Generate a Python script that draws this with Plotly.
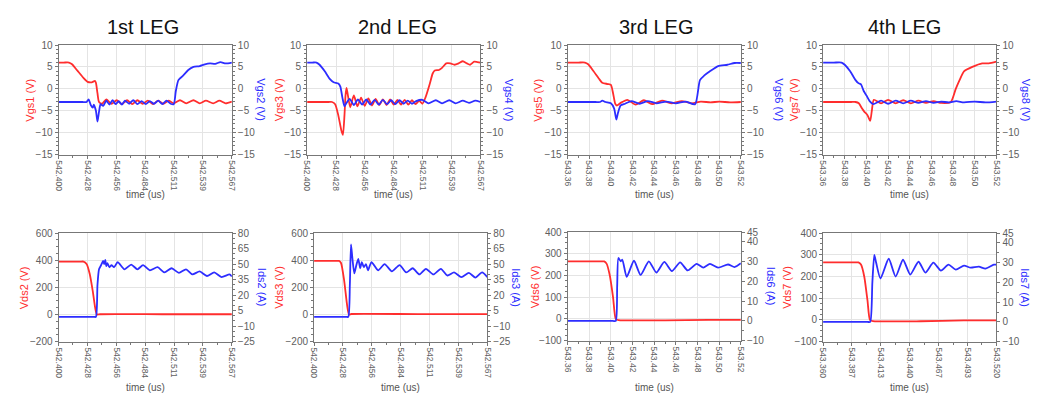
import numpy as np
import plotly.graph_objects as go

# page is 1041x401; the html body adds an 8px margin, so the figure is drawn 8px smaller
# and all target pixel positions are shifted by that margin.
PAGE_W, PAGE_H = 1041, 401
OFF = 8
W, H = PAGE_W - OFF, PAGE_H - OFF

# ---------------- data (time in us) ----------------
titles = ["1st LEG", "2nd LEG", "3rd LEG", "4th LEG"]

# x tick labels
xt_a = ["542.400", "542.428", "542.456", "542.484", "542.511", "542.539", "542.567"]
xt_b = ["543.36", "543.38", "543.40", "543.42", "543.44", "543.46", "543.48", "543.50", "543.52"]
xt_c = ["543.360", "543.387", "543.413", "543.440", "543.467", "543.493", "543.520"]

# Panel 1 top
t_vgs1 = [542.400, 542.405, 542.410, 542.413, 542.418, 542.424, 542.428, 542.432, 542.435, 542.436, 542.4375,
          542.439, 542.442, 542.446, 542.451, 542.456, 542.461, 542.466, 542.471, 542.476, 542.481, 542.486,
          542.491, 542.496, 542.501, 542.506, 542.511, 542.517, 542.523, 542.530, 542.536, 542.542, 542.549,
          542.555, 542.561, 542.567]
vgs1 = [6.0, 6.0, 6.0, 5.6, 4.2, 2.5, 1.6, 1.5, 1.8, 1.4, -1.0, -3.0, -3.4, -2.4, -3.4, -2.6, -3.5, -2.6, -3.5,
        -2.6, -3.4, -2.7, -3.5, -2.7, -3.4, -2.7, -3.3, -2.6, -3.3, -2.6, -3.3, -2.7, -3.3, -2.7, -3.3, -2.9]
t_vgs2 = [542.400, 542.415, 542.423, 542.427, 542.429, 542.431, 542.433, 542.434, 542.436, 542.4375, 542.439,
          542.4405, 542.443, 542.446, 542.449, 542.452, 542.455, 542.458, 542.461, 542.464, 542.468, 542.472,
          542.476, 542.480, 542.484, 542.488, 542.492, 542.496, 542.500, 542.504, 542.508, 542.511, 542.513,
          542.5155, 542.520, 542.525, 542.530, 542.536, 542.541, 542.546, 542.551, 542.556, 542.561, 542.567]
vgs2 = [-3.0, -3.0, -3.0, -3.0, -2.4, -3.7, -4.3, -3.6, -5.0, -7.5, -5.2, -3.5, -3.9, -2.7, -3.6, -2.6, -3.5,
        -2.8, -3.6, -2.7, -3.4, -2.6, -3.5, -2.8, -3.5, -2.8, -3.4, -2.7, -3.5, -2.7, -3.4, -3.5, -0.5, 2.0, 3.0,
        4.3, 5.0, 5.2, 5.6, 5.8, 5.7, 6.1, 5.8, 6.0]

# Panel 1 bottom
t_vds2 = [542.400, 542.415, 542.421, 542.424, 542.427, 542.430, 542.433, 542.4355, 542.437, 542.440, 542.500,
          542.567]
vds2 = [390, 390, 390, 390, 372, 300, 170, 40, 0, 2, 2, 2]
t_ids2 = [542.400, 542.420, 542.430, 542.434, 542.436, 542.4375, 542.439, 542.441, 542.443, 542.444, 542.445,
          542.446, 542.447, 542.449, 542.451, 542.4535, 542.457, 542.4635, 542.470, 542.476, 542.4814, 542.488,
          542.4954, 542.502, 542.509, 542.516, 542.5228, 542.529, 542.536, 542.543, 542.550, 542.557, 542.5648,
          542.567]
ids2 = [-1, -1, -1, -1, -1, 30, 45, 49, 53, 50, 54, 48, 51, 47, 49, 47, 52, 45, 49.5, 45, 49, 44, 47, 42, 46,
        41.5, 45, 40, 43, 38.5, 42, 37.5, 40, 38]

# Panel 2 top
t_vgs3 = [542.400, 542.415, 542.421, 542.424, 542.427, 542.430, 542.433, 542.4345, 542.436, 542.437, 542.438,
          542.4415, 542.445, 542.4485, 542.452, 542.4555, 542.459, 542.4625, 542.466, 542.4695, 542.473, 542.4765,
          542.480, 542.4835, 542.487, 542.4905, 542.494, 542.4975, 542.501, 542.5045, 542.508, 542.511, 542.514,
          542.518, 542.521, 542.523, 542.527, 542.530, 542.534, 542.538, 542.542, 542.546, 542.550, 542.554,
          542.557, 542.561, 542.564, 542.567]
vgs3 = [-3.0, -3.0, -3.0, -3.0, -3.5, -6.0, -9.5, -10.5, -6.0, -1.5, 0.2, -4.2, -1.5, -4.0, -2.0, -3.9, -2.2,
        -3.8, -2.3, -3.7, -2.4, -3.7, -2.4, -3.6, -2.5, -3.6, -2.5, -3.6, -2.6, -3.5, -2.7, -3.4, -2.0, 1.0, 3.5,
        4.2, 4.3, 4.8, 5.8, 5.8, 5.5, 5.8, 6.3, 5.8, 5.5, 6.2, 6.1, 6.0]
t_vgs4 = [542.400, 542.405, 542.409, 542.412, 542.417, 542.422, 542.4255, 542.430, 542.432, 542.434, 542.436,
          542.438, 542.441, 542.445, 542.449, 542.453, 542.457, 542.461, 542.465, 542.469, 542.473, 542.477,
          542.481, 542.485, 542.489, 542.493, 542.497, 542.501, 542.505, 542.511, 542.517, 542.524, 542.530,
          542.537, 542.543, 542.550, 542.556, 542.562, 542.567]
vgs4 = [6.0, 6.0, 6.0, 5.5, 4.0, 2.2, 1.5, 1.2, 0.5, -2.0, -4.0, -3.2, -2.3, -3.7, -2.4, -3.6, -2.4, -3.6, -2.5,
        -3.6, -2.5, -3.5, -2.6, -3.5, -2.6, -3.4, -2.7, -3.4, -2.8, -2.5, -3.3, -2.6, -3.3, -2.6, -3.3, -2.7,
        -3.2, -2.7, -3.0]

# Panel 2 bottom
t_vds3 = [542.400, 542.415, 542.421, 542.424, 542.426, 542.429, 542.432, 542.4337, 542.436, 542.500, 542.567]
vds3 = [395, 395, 395, 395, 380, 250, 60, 0, 4, 3, 3]
t_ids3 = [542.400, 542.420, 542.428, 542.431, 542.433, 542.4345, 542.4356, 542.437, 542.4388, 542.4405,
          542.4426, 542.4445, 542.446, 542.448, 542.450, 542.452, 542.4553, 542.4617, 542.468, 542.475, 542.4824,
          542.4888, 542.4951, 542.5015, 542.5078, 542.515, 542.5222, 542.5285, 542.5349, 542.542, 542.5492,
          542.5555, 542.5619, 542.567]
ids3 = [-1, -1, -1, -1, -1, 30, 69, 55, 41, 48, 55, 46, 52, 47, 50, 44, 52, 44, 50, 43, 49, 42, 46, 40, 45.5,
        40, 45.5, 39, 42, 37.5, 41.5, 37, 42, 37.5]

# Panel 3 top
t_vgs5 = [543.360, 543.370, 543.376, 543.379, 543.384, 543.389, 543.392, 543.397, 543.400, 543.402, 543.404,
          543.4055, 543.409, 543.4152, 543.4228, 543.4304, 543.438, 543.4472, 543.4563, 543.4654, 543.4746,
          543.483, 543.492, 543.500, 543.510, 543.520]
vgs5 = [6.0, 6.0, 6.0, 5.6, 4.0, 2.3, 1.4, 1.1, 0.9, -1.0, -3.4, -3.8, -3.2, -2.5, -3.6, -2.6, -3.5, -2.7, -3.3,
        -2.8, -3.3, -2.9, -3.1, -2.9, -3.1, -3.0]
t_vgs6 = [543.360, 543.378, 543.386, 543.390, 543.392, 543.395, 543.400, 543.403, 543.405, 543.4065, 543.409,
          543.413, 543.419, 543.4265, 543.434, 543.442, 543.451, 543.460, 543.469, 543.4777, 543.4822, 543.486,
          543.4914, 543.499, 543.5075, 543.5142, 543.520]
vgs6 = [-3.0, -3.0, -3.0, -3.0, -2.7, -3.0, -3.3, -4.5, -7.0, -5.5, -3.8, -3.4, -2.8, -3.4, -2.8, -3.3, -2.9,
        -3.3, -2.9, -3.5, 2.0, 3.0, 4.0, 5.2, 5.5, 5.9, 5.9]

# Panel 3 bottom
t_vds6 = [543.360, 543.382, 543.390, 543.3938, 543.396, 543.399, 543.402, 543.4045, 543.407, 543.450, 543.490,
          543.520]
vds6 = [265, 265, 265, 265, 255, 200, 100, 0, -5, -6, -4, -4]
t_ids6 = [543.360, 543.390, 543.399, 543.402, 543.4045, 543.4058, 543.4069, 543.4091, 543.4106, 543.4146,
          543.4213, 543.4274, 543.435, 543.442, 543.4493, 543.4563, 543.4639, 543.4709, 543.4791, 543.4853,
          543.4914, 543.499, 543.5081, 543.5142, 543.520]
ids6 = [0, 0, 0, 0, 0, 18, 31.9, 30.2, 31, 22.3, 30.5, 23.3, 30.2, 24.5, 29.9, 25.3, 29.7, 25.6, 28.9, 27,
        28.9, 27, 28.6, 27.3, 29.2]

# Panel 4 top
t_vgs7 = [543.360, 543.378, 543.386, 543.390, 543.393, 543.396, 543.398, 543.401, 543.4035, 543.405, 543.4069,
          543.4135, 543.420, 543.427, 543.434, 543.441, 543.448, 543.455, 543.462, 543.469, 543.4779, 543.4825,
          543.486, 543.4901, 543.4978, 543.5069, 543.513, 543.520]
vgs7 = [-3.0, -3.0, -3.0, -3.0, -3.3, -4.5, -5.2, -6.0, -7.3, -5.0, -2.5, -3.3, -2.5, -3.3, -2.6, -3.3, -2.7,
        -3.2, -2.8, -3.2, -3.0, 0.0, 2.0, 4.0, 5.0, 5.8, 5.8, 6.2]
t_vgs8 = [543.360, 543.370, 543.377, 543.380, 543.385, 543.390, 543.3926, 543.395, 543.3975, 543.400, 543.403,
          543.4063, 543.4135, 543.420, 543.427, 543.434, 543.441, 543.448, 543.455, 543.462, 543.469, 543.476,
          543.483, 543.490, 543.500, 543.510, 543.520]
vgs8 = [6.0, 6.0, 6.0, 5.5, 4.0, 2.0, 1.3, 1.0, -0.5, -1.5, -2.8, -3.5, -2.7, -3.4, -2.7, -3.3, -2.7, -3.2,
        -2.8, -3.2, -2.9, -3.1, -2.8, -3.1, -2.9, -3.1, -2.9]

# Panel 4 bottom
t_vds7 = [543.360, 543.380, 543.388, 543.3926, 543.395, 543.398, 543.401, 543.4033, 543.406, 543.450, 543.490,
          543.520]
vds7 = [265, 265, 265, 265, 255, 200, 90, 0, -5, -6, -2, -2]
t_ids7 = [543.360, 543.390, 543.398, 543.401, 543.4035, 543.4055, 543.4073, 543.409, 543.413, 543.4206,
          543.427, 543.4338, 543.4405, 543.4481, 543.4545, 543.4618, 543.4688, 543.4758, 543.4825, 543.4901,
          543.4962, 543.5038, 543.5099, 543.5176, 543.520]
ids7 = [0, 0, 0, 0, 0, 20, 34, 30, 22, 32, 23, 31.5, 24, 30.5, 25, 30, 26, 29, 26.5, 28.5, 27.5, 28, 27, 29, 29]

# ---------------- panel definitions ----------------
RED = "rgb(255,45,45)"
BLUE = "rgb(45,45,255)"
FONT = "Liberation Sans, Arial, sans-serif"
TICKC = "#606060"
AXC = "#777777"
GRIDC = "#e4e4e4"

panels = [
    dict(box=(54, 229, 40, 153), xr=(542.400, 542.567), xt=xt_a,
         L=(t_vgs1, vgs1, "Vgs1 (V)"), R=(t_vgs2, vgs2, "Vgs2 (V)"),
         yl=(-15, 10), ylt=[-15, -10, -5, 0, 5, 10], yr=(-15, 10), yrt=[-15, -10, -5, 0, 5, 10],
         lx=25, rx=259, minorL=1, minorR=1),
    dict(box=(305, 480, 40, 153), xr=(542.400, 542.567), xt=xt_a,
         L=(t_vgs3, vgs3, "Vgs3 (V)"), R=(t_vgs4, vgs4, "Vgs4 (V)"),
         yl=(-15, 10), ylt=[-15, -10, -5, 0, 5, 10], yr=(-15, 10), yrt=[-15, -10, -5, 0, 5, 10],
         lx=276, rx=509, minorL=1, minorR=1),
    dict(box=(568, 743, 40, 153), xr=(543.36, 543.52), xt=xt_b,
         L=(t_vgs5, vgs5, "Vgs5 (V)"), R=(t_vgs6, vgs6, "Vgs6 (V)"),
         yl=(-15, 10), ylt=[-15, -10, -5, 0, 5, 10], yr=(-15, 10), yrt=[-15, -10, -5, 0, 5, 10],
         lx=538, rx=782, minorL=1, minorR=1),
    dict(box=(826, 1001, 40, 153), xr=(543.36, 543.52), xt=xt_b,
         L=(t_vgs7, vgs7, "Vgs7 (V)"), R=(t_vgs8, vgs8, "Vgs8 (V)"),
         yl=(-15, 10), ylt=[-15, -10, -5, 0, 5, 10], yr=(-15, 10), yrt=[-15, -10, -5, 0, 5, 10],
         lx=796, rx=1031, minorL=1, minorR=1),
    dict(box=(54, 229, 234, 346), xr=(542.400, 542.567), xt=xt_a,
         L=(t_vds2, vds2, "Vds2 (V)"), R=(t_ids2, ids2, "Ids2 (A)"),
         yl=(-200, 600), ylt=[-200, 0, 200, 400, 600], yr=(-25, 80), yrt=[-25, -10, 5, 20, 35, 50, 65, 80],
         lx=20, rx=259, minorL=50, minorR=5),
    dict(box=(312, 487, 234, 346), xr=(542.400, 542.567), xt=xt_a,
         L=(t_vds3, vds3, "Vds3 (V)"), R=(t_ids3, ids3, "Ids3 (A)"),
         yl=(-200, 600), ylt=[-200, 0, 200, 400, 600], yr=(-25, 80), yrt=[-25, -10, 5, 20, 35, 50, 65, 80],
         lx=277, rx=516, minorL=50, minorR=5),
    dict(box=(568, 743, 233, 345), xr=(543.36, 543.52), xt=xt_b,
         L=(t_vds6, vds6, "Vds6 (V)"), R=(t_ids6, ids6, "Ids6 (A)"),
         yl=(-100, 400), ylt=[-100, 0, 100, 200, 300, 400], yr=(-10, 45), yrt=[-10, 0, 10, 20, 30, 40, 45],
         lx=536, rx=773, minorL=25, minorR=5),
    dict(box=(826, 1001, 234, 346), xr=(543.36, 543.52), xt=xt_c,
         L=(t_vds7, vds7, "Vds7 (V)"), R=(t_ids7, ids7, "Ids7 (A)"),
         yl=(-100, 400), ylt=[-100, 0, 100, 200, 300, 400], yr=(-10, 45), yrt=[-10, 0, 10, 20, 30, 40, 45],
         lx=790, rx=1030, minorL=25, minorR=5),
]


def fx(px):
    return (px - OFF) / W


def fy(py):
    return 1 - (py - OFF) / H


fig = go.Figure()
layout = dict(width=W, height=H, autosize=False, margin=dict(l=0, r=0, t=0, b=0),
              paper_bgcolor="white", plot_bgcolor="white", showlegend=False,
              font=dict(family=FONT, color=TICKC))
annotations = []

for i, p in enumerate(panels):
    n = i + 1
    xa = "x" if n == 1 else f"x{n}"
    yl = 2 * n - 1
    yr = 2 * n
    yla = "y" if yl == 1 else f"y{yl}"
    yra = f"y{yr}"
    x0, x1, y0, y1 = p["box"]

    tL, vL, nL = p["L"]
    tR, vR, nR = p["R"]
    fig.add_trace(go.Scatter(x=tL, y=vL, mode="lines", xaxis=xa, yaxis=yla,
                             line=dict(color=RED, width=1.8, shape="spline", smoothing=0.6), hoverinfo="skip"))
    fig.add_trace(go.Scatter(x=tR, y=vR, mode="lines", xaxis=xa, yaxis=yra,
                             line=dict(color=BLUE, width=1.8, shape="spline", smoothing=0.6), hoverinfo="skip"))

    xticks = p["xt"]
    xvals = list(np.linspace(p["xr"][0], p["xr"][1], len(xticks)))
    xminor = [(a + b) / 2 for a, b in zip(xvals[:-1], xvals[1:])]
    layout["xaxis" if n == 1 else f"xaxis{n}"] = dict(
        domain=[fx(x0), fx(x1)], range=list(p["xr"]), anchor=yla,
        tickmode="array", tickvals=xvals, ticktext=xticks, tickangle=90,
        tickfont=dict(size=8.5, color=TICKC, family=FONT),
        showgrid=True, gridcolor=GRIDC, gridwidth=1, zeroline=False,
        showline=True, linecolor=AXC, linewidth=1, mirror=True,
        ticks="outside", ticklen=3, tickcolor=AXC,
        minor=dict(tickmode="array", tickvals=xminor, ticks="outside", ticklen=2, tickcolor=AXC,
                   showgrid=False),
        fixedrange=True)
    layout["yaxis" if yl == 1 else f"yaxis{yl}"] = dict(
        domain=[fy(y1), fy(y0)], range=list(p["yl"]), anchor=xa,
        tickmode="array", tickvals=p["ylt"], tickfont=dict(size=10, color=TICKC, family=FONT),
        showgrid=True, gridcolor=GRIDC, zeroline=False,
        showline=True, linecolor=AXC, linewidth=1, mirror=True,
        ticks="outside", ticklen=3, tickcolor=AXC,
        minor=dict(ticks="outside", ticklen=2, tickcolor=AXC, dtick=p["minorL"], tick0=p["yl"][0],
                   showgrid=False),
        fixedrange=True)
    layout[f"yaxis{yr}"] = dict(
        overlaying=yla, side="right", anchor=xa, range=list(p["yr"]),
        tickmode="array", tickvals=p["yrt"], tickfont=dict(size=10, color=TICKC, family=FONT),
        showgrid=False, zeroline=False, showline=True, linecolor=AXC, linewidth=1,
        ticks="outside", ticklen=3, tickcolor=AXC,
        minor=dict(ticks="outside", ticklen=2, tickcolor=AXC, dtick=p["minorR"], tick0=p["yr"][0],
                   showgrid=False),
        fixedrange=True)

    ymid = (y0 + y1) / 2
    annotations.append(dict(text=nL, x=fx(p["lx"]), y=fy(ymid), xref="paper", yref="paper",
                            showarrow=False, textangle=-90, xanchor="center", yanchor="middle",
                            font=dict(size=11, color=RED, family=FONT)))
    annotations.append(dict(text=nR, x=fx(p["rx"]), y=fy(ymid), xref="paper", yref="paper",
                            showarrow=False, textangle=90, xanchor="center", yanchor="middle",
                            font=dict(size=11, color=BLUE, family=FONT)))
    ty = 194 if y0 < 100 else 393
    annotations.append(dict(text="time (us)", x=fx((x0 + x1) / 2), y=fy(ty), xref="paper", yref="paper",
                            showarrow=False, xanchor="center", yanchor="middle",
                            font=dict(size=10, color="#555555", family=FONT)))

title_x = [139, 396, 657, 908]
for tx, tt in zip(title_x, titles):
    annotations.append(dict(text=tt, x=fx(tx), y=fy(21), xref="paper", yref="paper", showarrow=False,
                            xanchor="center", yanchor="middle",
                            font=dict(size=20, color="#111111", family=FONT)))

layout["annotations"] = annotations
fig.update_layout(**layout)
fig.write_html("out.html")
